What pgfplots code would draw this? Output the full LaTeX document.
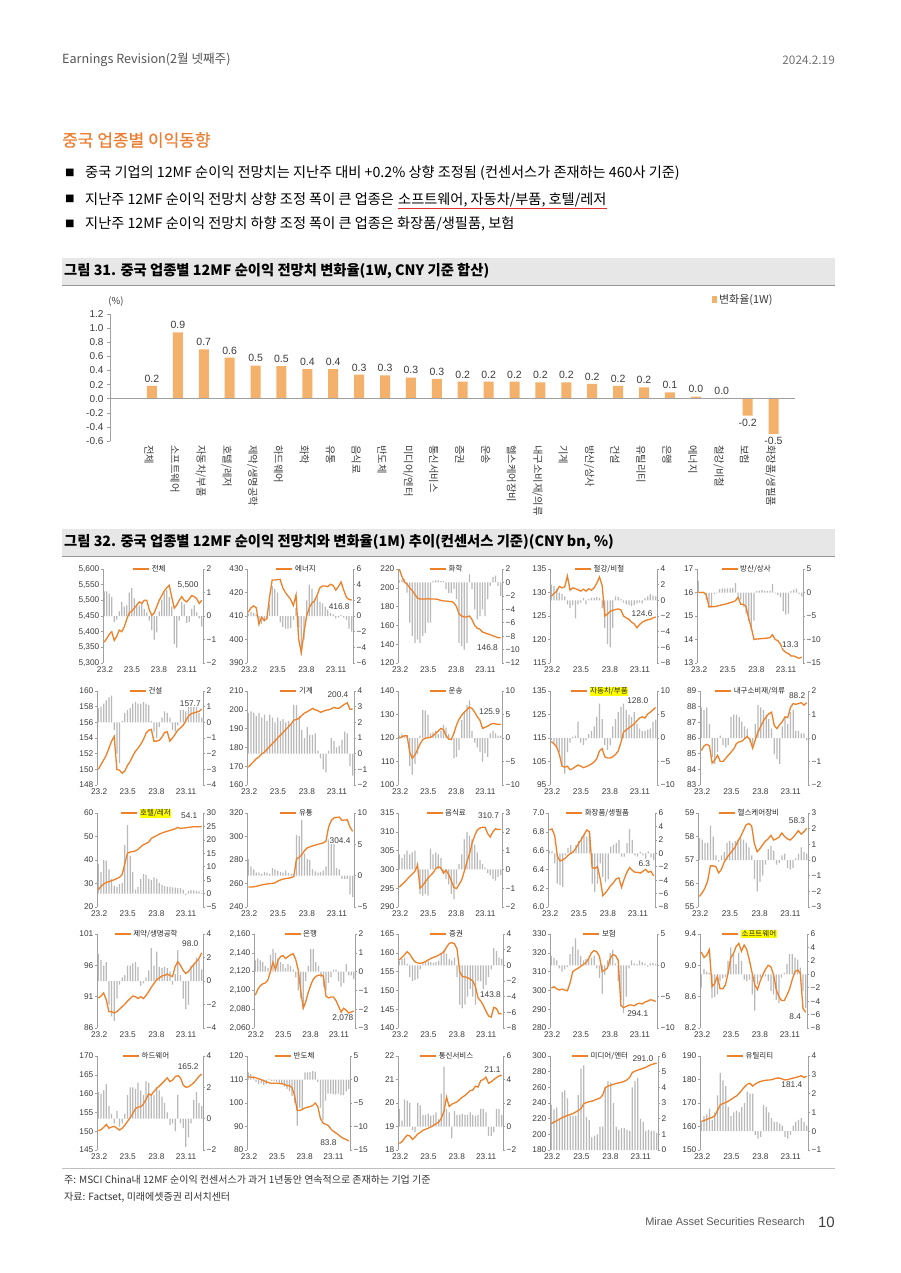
\documentclass[border=0pt]{standalone}
\usepackage{fontspec}
\setmainfont{Noto Sans CJK KR}
\newfontfamily\krmed[FakeBold=0.5]{Noto Sans CJK KR}
\newfontfamily\lib{Liberation Sans}
\usepackage{pgfplots}
\pgfplotsset{compat=1.18}
\usepackage{pgfplotstable}
\definecolor{lineorange}{RGB}{238,128,40}
\definecolor{titleorange}{RGB}{237,125,49}
\definecolor{barorange}{RGB}{244,177,108}
\definecolor{bargray}{RGB}{185,185,185}
\definecolor{axisgray}{RGB}{160,160,160}
\definecolor{tickgray}{RGB}{60,60,60}
\definecolor{bandgray}{RGB}{231,231,231}
\definecolor{bandline}{RGB}{150,150,150}
\definecolor{hdrgray}{RGB}{85,85,85}
\definecolor{hl}{RGB}{255,255,0}
\definecolor{ulred}{RGB}{222,50,50}
\setlength{\fboxsep}{0.6pt}

% ---------- data: L = 12MF earnings (left axis), B = 1M change % (right axis)
\pgfplotstableread[row sep=\\]{L B\\
5367 1.05\\ 5378 1.05\\ 5392 0.95\\ 5400 0.8\\ 5372 -0.25\\ 5385 -0.15\\ 5405 0.2\\ 5400 0.6\\
5415 0.4\\ 5440 0.45\\ 5460 1.0\\ 5465 1.2\\ 5475 0.75\\ 5485 0.5\\ 5495 0.45\\ 5490 0.55\\
5500 0.3\\ 5500 0.15\\ 5470 -0.2\\ 5452 -0.6\\ 5460 -1.0\\ 5480 -0.7\\ 5500 0.2\\ 5515 0.7\\
5530 1.0\\ 5540 1.1\\ 5548 0.8\\ 5510 0.4\\ 5475 -1.2\\ 5485 -1.35\\ 5500 -0.2\\ 5512 0.6\\
5500 0.5\\ 5495 -0.3\\ 5505 -0.25\\ 5515 0.3\\ 5512 0.45\\ 5505 0.15\\ 5490 -0.1\\ 5500 -0.45\\
}\Ta
\pgfplotstableread[row sep=\\]{L B\\
411.6 0.3\\ 413.5 0.5\\ 414.3 0.4\\ 413.5 0.2\\ 406.5 -0.6\\ 409.5 -1.0\\ 408.0 -0.5\\ 409.0 -0.3\\
418 1.5\\ 425.3 3.8\\ 425.3 3.5\\ 425.5 3.0\\ 425.6 -0.8\\ 422.0 -1.4\\ 420.0 -1.6\\ 418.5 -1.6\\
417.0 -1.5\\ 414.5 -0.5\\ 419.0 1.0\\ 400.0 -1.5\\ 394.5 -5.0\\ 403.0 -3.0\\ 410.0 2.0\\ 413.5 4.0\\
415.5 3.5\\ 416.5 2.2\\ 419.0 2.5\\ 422.0 1.8\\ 422.8 1.6\\ 422.8 1.2\\ 422.5 0.8\\ 423.5 0.4\\
423.0 0.2\\ 421.0 -0.3\\ 422.5 -0.2\\ 424.5 0.1\\ 421.0 -0.2\\ 418.0 -0.5\\ 417.0 -1.6\\ 416.8 -2.0\\
}\Tb
\pgfplotstableread[row sep=\\]{L B\\
220 0.3\\ 212 0.4\\ 206 0.5\\ 204 -1.5\\ 200 -6.0\\ 197 -8.0\\ 193 -9.0\\ 189 -8.5\\
188 -9.0\\ 188 -8.0\\ 188 -7.5\\ 188.5 -6.0\\ 188 -6.0\\ 188 0.2\\ 188 0.3\\ 187.5 0.3\\
186.5 0.2\\ 186 0.2\\ 186 -1.0\\ 185.5 -1.6\\ 185.5 -1.6\\ 184 -1.0\\ 180 -2.5\\ 172 -9.0\\
170 -9.5\\ 169 -10.0\\ 169 -9.0\\ 170 1.2\\ 166 -1.0\\ 160 -4.0\\ 157 -5.5\\ 156 -5.0\\
153 -4.0\\ 152 -5.0\\ 151 -2.5\\ 150 -0.5\\ 149 0.8\\ 148 1.0\\ 147 -0.5\\ 146.8 -2.0\\
}\Tc
\pgfplotstableread[row sep=\\]{L B\\
129.2 2.0\\ 129.8 1.8\\ 130.3 1.5\\ 131.3 1.0\\ 131.0 0.8\\ 131.2 0.5\\ 133.5 -0.5\\ 130.5 -1.0\\
131.0 -0.6\\ 130.8 -2.3\\ 130.6 -0.5\\ 130.3 -0.3\\ 130.7 0.3\\ 130.3 -0.5\\ 130.8 0.2\\ 130.5 0.3\\
131.0 0.3\\ 132.0 0.4\\ 133.3 0.3\\ 131.5 -1.0\\ 125.0 -3.5\\ 125.4 -5.6\\ 126.0 -6.0\\ 126.2 -3.5\\
126.4 0.5\\ 126.5 0.4\\ 126.3 0.2\\ 125.0 -0.3\\ 124.6 -0.5\\ 124.3 -0.6\\ 123.7 -0.7\\ 123.3 -0.6\\
122.5 -0.4\\ 123.2 -0.3\\ 123.7 -0.4\\ 124.0 0.3\\ 124.2 0.5\\ 124.3 0.8\\ 124.6 0.6\\ 124.8 0.5\\
}\Td
\pgfplotstableread[row sep=\\]{L B\\
16.0 2.5\\ 16.0 0.2\\ 16.0 0.2\\ 15.9 -1.5\\ 15.4 -3.3\\ 15.4 -3.2\\ 15.4 -0.3\\ 15.42 -0.2\\
15.45 0.7\\ 15.48 0.8\\ 15.5 0.8\\ 15.53 0.9\\ 15.57 0.9\\ 15.6 1.0\\ 15.65 2.0\\ 15.8 -0.8\\
15.5 -1.5\\ 15.5 -3.0\\ 15.4 -4.5\\ 14.9 -6.0\\ 14.5 -8.0\\ 14.0 -6.0\\ 14.02 0.3\\ 14.03 0.4\\
14.04 0.5\\ 14.05 0.4\\ 14.06 0.3\\ 14.08 0.4\\ 14.2 1.8\\ 14.0 -0.2\\ 13.95 -0.5\\ 13.8 -1.0\\
13.55 -4.0\\ 13.45 -4.7\\ 13.4 -4.5\\ 13.3 0.3\\ 13.3 0.6\\ 13.25 0.8\\ 13.2 -0.3\\ 13.25 -0.8\\
}\Te
\pgfplotstableread[row sep=\\]{L B\\
150.0 0.9\\ 150.6 1.0\\ 151.2 1.2\\ 151.8 1.4\\ 152.7 1.6\\ 153.6 1.7\\ 154.2 -0.5\\ 150.0 -2.0\\
149.9 -2.6\\ 149.5 0.1\\ 149.8 0.6\\ 150.5 0.8\\ 151.0 0.9\\ 151.7 1.2\\ 152.3 1.3\\ 152.7 1.2\\
153.2 1.2\\ 153.8 1.3\\ 154.6 1.2\\ 155.0 1.1\\ 155.1 0.1\\ 153.6 -0.6\\ 153.6 -1.0\\ 153.7 -0.3\\
154.1 0.3\\ 154.7 0.7\\ 154.8 0.6\\ 153.6 0.3\\ 154.0 -0.5\\ 154.5 -0.6\\ 155.0 -0.2\\ 155.3 0.8\\
155.6 0.8\\ 156.2 0.7\\ 156.8 1.0\\ 157.1 1.1\\ 157.2 1.2\\ 157.3 1.0\\ 157.4 0.6\\ 157.7 0.3\\
}\Tf
\pgfplotstableread[row sep=\\]{L B\\
169.5 2.6\\ 171 2.7\\ 172.5 2.6\\ 174.0 2.4\\ 175.0 2.6\\ 176.5 2.3\\ 177.5 2.5\\ 179.0 2.1\\
180.5 2.5\\ 182.0 2.3\\ 183.5 2.0\\ 185.0 2.3\\ 186.5 2.1\\ 188.0 2.2\\ 189.5 2.0\\ 191.0 2.1\\
192.5 1.9\\ 194.5 3.1\\ 194.8 3.1\\ 195.5 2.4\\ 197.0 1.5\\ 198.3 1.0\\ 199.0 1.7\\ 199.8 1.2\\
200.7 1.2\\ 200.0 1.3\\ 199.5 0.2\\ 198.7 -0.3\\ 199.2 -1.0\\ 199.8 -1.2\\ 200.0 0.2\\ 200.5 1.0\\
201.3 0.8\\ 200.8 0.4\\ 200.9 0.5\\ 202.0 0.9\\ 203.0 1.4\\ 203.7 1.3\\ 200.3 -0.8\\ 200.4 -1.4\\
}\Tg
\pgfplotstableread[row sep=\\]{L B\\
119.9 0.5\\ 120.5 0.8\\ 121.0 0.5\\ 121.0 0.4\\ 114.0 -6.0\\ 111.4 -7.8\\ 112.8 -5.5\\ 115.0 -3.5\\
117.5 0.5\\ 119.3 6.0\\ 119.9 5.8\\ 120.1 5.0\\ 120.3 1.0\\ 121.0 1.2\\ 122.0 1.5\\ 123.0 0.8\\
124.1 1.5\\ 123.5 2.8\\ 121.0 2.2\\ 119.5 0.8\\ 119.4 -0.5\\ 122.0 -4.3\\ 125.5 -4.0\\ 128.0 -2.5\\
129.7 3.8\\ 131.0 5.5\\ 132.0 7.0\\ 133.2 8.0\\ 132.5 1.5\\ 131.0 -1.0\\ 129.0 -2.0\\ 127.6 -3.0\\
124.1 -5.0\\ 124.6 -3.2\\ 125.0 -4.0\\ 125.8 1.0\\ 126.2 1.5\\ 126.0 1.0\\ 125.8 0.5\\ 125.9 0.5\\
}\Th
\pgfplotstableread[row sep=\\]{L B\\
113.5 -0.5\\ 112.5 -1.0\\ 111.2 -2.0\\ 108.0 -3.0\\ 103.0 -6.0\\ 102.6 -7.6\\ 103.0 -3.0\\ 101.5 -1.0\\
102.0 0.3\\ 102.8 0.5\\ 103.5 3.5\\ 103.0 -1.0\\ 102.4 -1.5\\ 102.8 -0.5\\ 103.3 0.8\\ 104.0 1.5\\
104.8 2.5\\ 106.2 4.5\\ 109.5 7.3\\ 110.5 4.0\\ 107.0 -1.5\\ 106.5 -2.5\\ 106.5 -1.5\\ 107.0 2.5\\
108.0 4.0\\ 109.5 5.5\\ 113.0 6.6\\ 117.5 7.3\\ 118.5 6.0\\ 119.3 5.0\\ 120.2 4.5\\ 121.0 5.5\\
122.3 3.0\\ 123.5 2.0\\ 124.0 1.5\\ 123.5 1.5\\ 125.2 1.8\\ 126.0 2.0\\ 127.0 3.5\\ 128.0 3.9\\
}\Ti
\pgfplotstableread[row sep=\\]{L B\\
85.2 1.3\\ 85.5 1.2\\ 85.6 1.3\\ 85.5 0.6\\ 84.4 -0.8\\ 84.6 -1.1\\ 84.9 -0.6\\ 84.5 0.1\\
84.5 -0.3\\ 84.7 -0.4\\ 84.9 -0.3\\ 85.1 0.9\\ 85.3 1.0\\ 85.65 1.0\\ 85.75 0.9\\ 85.8 0.7\\
85.95 0.5\\ 86.1 0.4\\ 85.9 -0.2\\ 85.35 -0.3\\ 85.9 0.6\\ 86.4 1.4\\ 86.75 1.3\\ 87.1 1.2\\
87.35 1.0\\ 87.55 0.8\\ 87.65 0.4\\ 86.8 -0.7\\ 86.6 -0.9\\ 86.85 -1.1\\ 87.05 0.5\\ 87.35 0.9\\
87.3 0.6\\ 87.95 1.1\\ 88.2 1.2\\ 88.15 0.3\\ 88.2 0.3\\ 88.25 0.2\\ 88.1 0.2\\ 88.25 -0.1\\
}\Tj
\pgfplotstableread[row sep=\\]{L B\\
27.3 11.0\\ 28.8 8.0\\ 29.8 12.5\\ 30.5 12.3\\ 30.8 9.0\\ 31.2 5.5\\ 31.6 3.0\\ 32.1 2.5\\
32.7 3.5\\ 33.8 4.0\\ 38.5 18.0\\ 42.9 25.5\\ 43.4 14.0\\ 43.6 8.0\\ 43.9 1.5\\ 44.5 2.5\\
45.6 5.5\\ 46.5 7.2\\ 47.0 7.0\\ 47.6 5.5\\ 49.2 5.0\\ 49.8 6.0\\ 50.4 5.5\\ 51.0 4.0\\
51.5 3.2\\ 51.9 2.8\\ 52.2 2.6\\ 52.6 2.5\\ 52.9 2.3\\ 53.3 2.2\\ 53.9 2.0\\ 53.4 2.0\\
53.6 1.5\\ 53.7 -0.5\\ 53.9 1.0\\ 54.0 1.3\\ 54.2 1.2\\ 54.1 1.0\\ 54.2 0.8\\ 54.2 0.3\\
}\Tk
\pgfplotstableread[row sep=\\]{L B\\
257.1 2.7\\ 257.0 1.5\\ 257.2 1.0\\ 257.6 0.5\\ 258.2 0.5\\ 258.8 0.3\\ 259.3 0.6\\ 259.6 0.5\\
260.0 0.3\\ 260.1 1.2\\ 260.6 1.0\\ 262.0 0.8\\ 263.0 0.6\\ 263.8 0.5\\ 264.2 0.8\\ 264.6 0.4\\
265.0 0.3\\ 266.0 0.2\\ 281.0 6.5\\ 282.3 6.3\\ 284.5 8.9\\ 288.0 3.5\\ 290.3 2.7\\ 291.2 2.5\\
292.0 1.0\\ 292.7 0.7\\ 293.3 0.5\\ 294.0 0.6\\ 294.6 0.8\\ 295.9 1.5\\ 308.0 5.8\\ 313.5 6.0\\
315.8 5.5\\ 316.3 1.2\\ 316.5 1.0\\ 313.8 -0.5\\ 314.0 -0.5\\ 314.2 -0.5\\ 308.0 -3.0\\ 304.4 -3.4\\
}\Tl
\pgfplotstableread[row sep=\\]{L B\\
295.3 0.8\\ 296.0 0.6\\ 296.6 0.8\\ 297.4 1.0\\ 298.1 0.8\\ 298.8 0.9\\ 299.5 1.0\\ 301.1 0.4\\
295.0 -1.3\\ 295.7 -1.4\\ 296.7 -1.3\\ 297.6 -1.4\\ 298.4 1.1\\ 299.1 0.8\\ 300.2 0.9\\ 300.7 0.8\\
300.4 0.6\\ 299.0 -0.2\\ 299.8 -0.5\\ 298.6 -0.8\\ 297.0 -1.3\\ 295.2 -1.6\\ 294.9 -0.8\\ 296.0 0.3\\
297.2 0.8\\ 299.5 1.6\\ 302.0 2.0\\ 304.1 1.8\\ 307.0 1.6\\ 309.0 1.3\\ 310.5 0.9\\ 311.0 0.5\\
311.2 0.3\\ 311.2 0.1\\ 309.5 -0.2\\ 308.6 -0.3\\ 310.0 -0.5\\ 310.8 -0.6\\ 310.6 -0.4\\ 310.7 -0.3\\
}\Tm
\pgfplotstableread[row sep=\\]{L B\\
6.82 0.4\\ 6.83 0.3\\ 6.76 -1.5\\ 6.54 -4.5\\ 6.49 -4.7\\ 6.50 -5.0\\ 6.52 -0.3\\ 6.55 0.8\\
6.57 1.2\\ 6.59 0.2\\ 6.63 1.2\\ 6.68 1.8\\ 6.72 2.5\\ 6.77 2.8\\ 6.82 2.5\\ 6.80 3.2\\
6.42 -4.5\\ 6.41 -5.8\\ 6.43 -4.5\\ 6.30 -1.5\\ 6.12 -3.5\\ 6.15 -4.3\\ 6.19 -3.9\\ 6.23 1.0\\
6.26 1.3\\ 6.30 1.5\\ 6.31 2.0\\ 6.21 -0.5\\ 6.30 -0.5\\ 6.37 1.5\\ 6.42 3.6\\ 6.39 2.0\\
6.37 -0.3\\ 6.37 -0.5\\ 6.36 0.2\\ 6.38 -0.3\\ 6.40 -0.8\\ 6.37 0.3\\ 6.38 -0.6\\ 6.33 -1.0\\
}\Tn
\pgfplotstableread[row sep=\\]{L B\\
55.45 1.4\\ 55.6 1.3\\ 55.8 1.1\\ 56.1 1.1\\ 56.75 2.2\\ 56.75 1.5\\ 56.72 0.3\\ 56.45 -0.1\\
56.6 0.3\\ 56.9 0.5\\ 57.1 1.1\\ 57.25 1.2\\ 57.4 1.1\\ 57.55 1.2\\ 57.8 1.3\\ 58.0 1.4\\
58.25 1.3\\ 58.5 1.1\\ 58.55 0.8\\ 58.45 0.3\\ 57.7 -1.2\\ 57.35 -2.0\\ 57.48 -1.4\\ 57.65 -1.0\\
57.8 -0.3\\ 57.9 0.7\\ 58.05 0.9\\ 57.85 0.6\\ 57.9 -0.3\\ 57.98 -0.2\\ 58.15 0.3\\ 58.0 0.4\\
57.9 -0.5\\ 57.85 -0.6\\ 57.95 -0.5\\ 58.1 0.1\\ 58.25 0.4\\ 58.1 0.8\\ 58.2 0.5\\ 58.35 0.4\\
}\To
\pgfplotstableread[row sep=\\]{L B\\
90.8 2.3\\ 91.1 1.8\\ 91.6 1.3\\ 90.5 1.6\\ 88.6 -2.0\\ 88.6 -3.0\\ 88.4 -3.4\\ 88.6 -1.5\\
89.0 -0.3\\ 89.4 0.3\\ 89.8 0.5\\ 90.3 1.3\\ 90.7 1.3\\ 91.1 1.5\\ 91.0 1.6\\ 90.7 1.2\\
91.0 -0.4\\ 90.7 -0.2\\ 91.2 0.3\\ 91.8 0.9\\ 92.5 2.8\\ 93.1 1.3\\ 93.7 2.5\\ 94.0 1.2\\
94.3 1.1\\ 94.4 1.2\\ 94.6 1.1\\ 94.4 0.8\\ 94.2 -0.3\\ 95.8 0.6\\ 96.6 2.6\\ 96.0 0.5\\
95.2 -1.5\\ 94.7 -2.4\\ 95.0 -2.0\\ 95.6 1.3\\ 96.1 1.5\\ 96.6 2.0\\ 97.1 1.8\\ 98.0 1.0\\
}\Tp
\pgfplotstableread[row sep=\\]{L B\\
2095 0.6\\ 2101 0.7\\ 2105 0.6\\ 2107 0.5\\ 2108 0.3\\ 2111 0.2\\ 2120 0.9\\ 2130 1.2\\
2122 1.0\\ 2132 0.7\\ 2136 0.5\\ 2137 0.4\\ 2134 0.2\\ 2136 0.4\\ 2138 0.3\\ 2139 0.1\\
2133 -0.3\\ 2122 -1.0\\ 2100 -1.4\\ 2081 -2.0\\ 2088 -0.5\\ 2098 0.3\\ 2106 1.2\\ 2112 1.2\\
2115 0.5\\ 2116 0.3\\ 2116.5 -0.3\\ 2115 -0.8\\ 2094 -1.0\\ 2092 -0.6\\ 2093 -0.3\\ 2093 0.1\\
2089 0.1\\ 2083 -0.5\\ 2077 -0.8\\ 2081 -0.6\\ 2079 0.4\\ 2076 -0.2\\ 2077 -0.2\\ 2078 -0.4\\
}\Tq
\pgfplotstableread[row sep=\\]{L B\\
158.1 0.6\\ 158.8 0.8\\ 159.5 1.0\\ 160.3 0.2\\ 159.6 -1.5\\ 158.5 -2.0\\ 157.6 -1.9\\ 157.3 -1.7\\
157.2 -0.5\\ 157.4 0.3\\ 157.7 0.4\\ 158.1 0.5\\ 158.5 0.4\\ 158.8 0.3\\ 159.0 0.4\\ 159.4 0.6\\
159.8 1.5\\ 160.3 2.0\\ 161.5 1.5\\ 162.5 0.8\\ 162.7 0.6\\ 162.4 1.0\\ 161.0 -1.5\\ 155.0 -5.0\\
153.7 -5.5\\ 153.6 -5.0\\ 153.4 -4.0\\ 153.0 -3.0\\ 152.5 -4.0\\ 151.0 -5.0\\ 148.0 -2.0\\ 147.2 -2.0\\
146.0 -3.0\\ 144.5 -2.5\\ 143.2 -1.5\\ 142.9 -0.5\\ 145.5 2.2\\ 145.2 1.8\\ 143.8 1.0\\ 143.8 0.8\\
}\Tr
\pgfplotstableread[row sep=\\]{L B\\
301.2 1.5\\ 302.0 1.2\\ 300.8 0.8\\ 300.2 -0.5\\ 300.7 -1.0\\ 300.2 -0.6\\ 299.8 -0.3\\ 304.0 1.8\\
310.0 3.0\\ 311.0 4.3\\ 311.8 2.5\\ 312.8 1.5\\ 313.8 0.8\\ 314.8 1.0\\ 317.1 1.0\\ 320.0 1.2\\
321.2 1.5\\ 320.5 -0.5\\ 318.0 -2.0\\ 310.0 -4.5\\ 310.8 -1.5\\ 312.0 0.8\\ 317.1 2.0\\ 319.0 2.5\\
318.5 0.3\\ 316.0 -2.5\\ 292.0 -5.5\\ 290.8 -7.6\\ 291.5 -5.0\\ 292.2 -0.5\\ 292.2 0.8\\ 291.8 0.3\\
292.8 0.2\\ 293.2 0.8\\ 292.8 0.5\\ 293.8 0.3\\ 294.3 -0.2\\ 295.0 0.3\\ 294.8 0.4\\ 294.1 0.2\\
}\Ts
\pgfplotstableread[row sep=\\]{L B\\
9.17 -2.0\\ 9.10 0.8\\ 9.13 0.4\\ 9.20 0.2\\ 8.73 -3.5\\ 8.77 -3.4\\ 8.86 -3.0\\ 8.70 -1.0\\
8.70 -0.6\\ 8.75 -0.4\\ 8.90 2.0\\ 9.10 4.0\\ 9.15 3.0\\ 9.24 1.5\\ 9.28 3.2\\ 9.18 2.0\\
9.26 -0.8\\ 9.20 -1.0\\ 9.06 -0.8\\ 8.90 -3.0\\ 8.75 -5.4\\ 8.69 -1.5\\ 8.80 -0.5\\ 8.88 -0.3\\
8.95 -0.3\\ 9.00 -1.0\\ 8.98 -2.5\\ 8.88 -3.0\\ 8.69 -3.8\\ 8.60 -4.3\\ 8.55 -0.5\\ 8.55 0.2\\
8.62 1.5\\ 8.70 3.0\\ 8.82 3.0\\ 8.92 2.5\\ 8.94 2.2\\ 8.90 1.0\\ 8.45 -2.5\\ 8.40 -5.0\\
}\Tt
\pgfplotstableread[row sep=\\]{L B\\
150.1 1.7\\ 150.4 1.6\\ 151.0 1.8\\ 151.8 2.2\\ 150.8 0.8\\ 151.1 0.3\\ 151.3 -0.3\\ 150.8 0.5\\
150.3 -0.5\\ 150.8 -0.3\\ 151.6 0.3\\ 152.6 1.5\\ 153.6 2.0\\ 154.7 2.0\\ 156.0 1.9\\ 156.4 2.3\\
156.5 1.8\\ 157.2 1.5\\ 158.5 2.4\\ 159.9 2.3\\ 159.6 1.6\\ 160.6 1.5\\ 161.4 2.0\\ 162.0 1.8\\
162.7 1.4\\ 163.4 1.0\\ 164.2 0.4\\ 163.2 -0.4\\ 163.6 -0.3\\ 164.5 -0.8\\ 164.8 1.5\\ 164.2 -0.3\\
162.3 -0.6\\ 161.7 -1.8\\ 161.8 -1.2\\ 162.3 -0.3\\ 162.9 1.2\\ 163.7 1.7\\ 164.6 1.0\\ 165.2 0.8\\
}\Tu
\pgfplotstableread[row sep=\\]{L B\\
111.2 1.5\\ 111.0 1.2\\ 111.0 0.8\\ 110.7 -0.5\\ 110.3 -1.0\\ 110.0 -0.8\\ 109.5 -1.2\\ 109.0 -1.0\\
108.6 0.2\\ 108.4 -0.3\\ 108.4 -0.3\\ 108.4 -0.5\\ 108.3 -0.8\\ 108.2 -1.0\\ 108.0 -1.5\\ 107.4 -2.0\\
107.4 -2.5\\ 106.5 -3.5\\ 103.0 -5.0\\ 96.8 -9.8\\ 96.8 -6.0\\ 97.3 -6.5\\ 97.9 1.5\\ 98.2 1.5\\
98.5 1.6\\ 98.9 1.8\\ 100.0 1.7\\ 98.5 -0.5\\ 93.5 -6.0\\ 91.5 -8.7\\ 91.0 -4.5\\ 90.5 -3.0\\
89.1 -3.0\\ 88.0 -3.1\\ 87.3 -3.2\\ 86.5 -3.0\\ 85.6 -3.3\\ 84.9 -3.3\\ 84.5 -2.5\\ 83.8 -2.0\\
}\Tv
\pgfplotstableread[row sep=\\]{L B\\
18.28 1.5\\ 18.35 0.5\\ 18.5 2.3\\ 18.63 2.2\\ 18.6 2.0\\ 18.45 -0.3\\ 18.55 -0.5\\ 18.68 2.0\\
18.75 1.8\\ 18.84 1.0\\ 18.88 1.0\\ 18.93 1.1\\ 18.98 0.9\\ 19.05 1.0\\ 19.12 1.2\\ 19.19 0.6\\
19.35 2.8\\ 19.65 5.1\\ 20.25 1.5\\ 19.85 1.2\\ 19.95 -1.0\\ 20.0 1.3\\ 20.05 1.0\\ 20.15 1.0\\
20.25 1.1\\ 20.32 1.0\\ 20.42 1.0\\ 20.53 1.2\\ 20.55 1.0\\ 20.72 0.9\\ 20.68 1.0\\ 20.95 1.5\\
21.0 1.5\\ 21.1 1.2\\ 20.84 -0.8\\ 20.9 -0.8\\ 21.0 -0.5\\ 21.08 1.5\\ 21.15 1.5\\ 21.19 1.0\\
}\Tw
\pgfplotstableread[row sep=\\]{L B\\
213.7 2.9\\ 215.5 2.6\\ 217.5 2.7\\ 219.3 2.0\\ 221.3 3.7\\ 222.8 3.8\\ 224.2 3.3\\ 225.3 2.2\\
226.6 2.2\\ 228.5 2.2\\ 230.5 3.5\\ 233.0 5.2\\ 238.9 5.4\\ 240.7 2.1\\ 241.6 1.9\\ 242.3 0.8\\
243.7 0.9\\ 245.0 1.0\\ 246.3 1.5\\ 250.0 1.5\\ 259.8 4.0\\ 261.5 4.4\\ 262.8 4.3\\ 263.8 3.0\\
265.0 1.5\\ 265.7 1.3\\ 266.5 1.4\\ 267.7 1.4\\ 269.5 1.3\\ 272.7 1.2\\ 278.9 4.0\\ 280.7 4.4\\
282.0 4.6\\ 283.2 2.0\\ 284.3 1.8\\ 285.7 1.2\\ 287.5 1.3\\ 289.0 1.2\\ 290.0 1.2\\ 291.0 1.1\\
}\Tx
\pgfplotstableread[row sep=\\]{L B\\
162.2 0.5\\ 162.5 0.8\\ 163.0 0.9\\ 163.5 1.2\\ 163.9 0.6\\ 164.6 1.0\\ 166.8 1.9\\ 169.2 3.1\\
169.8 2.7\\ 170.2 2.4\\ 170.8 1.3\\ 171.5 0.8\\ 172.3 1.0\\ 173.0 1.1\\ 174.1 1.0\\ 175.5 1.3\\
176.9 1.5\\ 178.0 2.1\\ 178.4 2.0\\ 177.2 2.0\\ 178.1 -0.2\\ 178.8 -0.4\\ 179.2 -0.3\\ 179.5 1.4\\
179.7 1.3\\ 179.8 1.0\\ 179.9 0.7\\ 180.3 0.5\\ 180.6 0.5\\ 180.6 0.4\\ 180.2 0.3\\ 179.8 -0.3\\
180.0 -0.4\\ 180.3 -0.2\\ 180.6 0.3\\ 180.9 0.5\\ 181.2 0.6\\ 181.6 0.7\\ 180.9 0.5\\ 181.4 0.3\\
}\Ty

\pgfplotsset{
  pcommon/.style={scale only axis, height=94pt, anchor=south west,
    xmin=-0.5, xmax=39.5, scaled y ticks=false,
    /pgf/number format/assume math mode=true,
    tick align=outside, major tick length=2pt,
    tick style={axisgray, line width=0.5pt},
    axis line style={axisgray, line width=0.6pt},
    tick label style={font=\lib\fontsize{8.3}{9}\selectfont, text=tickgray},
    yticklabel style={inner sep=1.5pt},
    clip mode=individual},
  pbar/.style={pcommon, axis x line=none, axis y line*=right},
  pline/.style={pcommon, axis y line*=left, axis x line*=bottom,
    x axis line style={draw=none},
    xtick={0.3,11.1,21.9,33.1}, xticklabels={23.2,23.5,23.8,23.11},
    xtick style={draw=none}, xticklabel style={inner sep=1.5pt},
    legend style={at={(0.47,1)}, anchor=center, draw=none, fill=none,
      inner sep=0pt, font=\fontsize{7.5}{8}\selectfont, text=black!85},
    legend image code/.code={\draw[##1, line width=1.3pt] (0pt,0pt) -- (16pt,0pt);}},
  pbarplot/.style={ybar, bar width=1.25pt, fill=bargray, draw=none, bar shift=0pt},
  plineplot/.style={color=lineorange, line width=1.3pt, mark=none},
}
\tikzset{vlab/.style={font=\lib\fontsize{8.3}{9}\selectfont, text=tickgray, fill=white, inner sep=0.5pt}}

\newcommand\Panel[9]{%
  \begin{axis}[pbar, at={(#2pt,-#3pt)}, width=#4pt, #6]
    \addplot[pbarplot] table[x expr=\coordindex, y=B] {#1};
  \end{axis}
  \begin{axis}[pline, at={(#2pt,-#3pt)}, width=#4pt, #5]
    \addplot[plineplot] table[x expr=\coordindex, y=L] {#1};
    \addlegendentry{#7}
    \node[vlab] at (rel axis cs:#8) {#9};
  \end{axis}}

\begin{document}
\begin{tikzpicture}
\fill[white] (0pt,0pt) rectangle (900pt,-1273pt);

% header
\node[anchor=west, inner sep=0, font=\fontsize{12.6}{13}\selectfont, text=hdrgray] at (62pt,-60pt) {Earnings Revision(2월 넷째주)};
\node[anchor=east, inner sep=0, font=\fontsize{11.8}{12}\selectfont, text=black!55] at (835pt,-60pt) {2024.2.19};
\node[anchor=west, inner sep=0, font=\krmed\fontsize{17}{17}\selectfont, text=titleorange] at (62pt,-140pt) {중국 업종별 이익동향};

% bullets
\foreach \yy in {173,199,224} {\node[anchor=west, inner sep=0, font=\fontsize{9.5}{10}\selectfont] at (65pt,-\yy pt) {■};}
\node[anchor=west, inner sep=0, font=\fontsize{14.2}{15}\selectfont] at (85pt,-173pt) {중국 기업의 12MF 순이익 전망치는 지난주 대비 +0.2\% 상향 조정됨 (컨센서스가 존재하는 460사 기준)};
\node[anchor=west, inner sep=0, font=\fontsize{14.2}{15}\selectfont] (b2) at (85pt,-199pt) {지난주 12MF 순이익 전망치 상향 조정 폭이 큰 업종은};
\node[anchor=base west, inner sep=0, font=\fontsize{14.2}{15}\selectfont] (b2u) at ([xshift=3.8pt]b2.base east) {소프트웨어, 자동차/부품, 호텔/레저};
\draw[ulred, line width=1.2pt] ([yshift=-4.5pt]b2u.base west) -- ([yshift=-4.5pt]b2u.base east);
\node[anchor=west, inner sep=0, font=\fontsize{14.2}{15}\selectfont] at (85pt,-224pt) {지난주 12MF 순이익 전망치 하향 조정 폭이 큰 업종은 화장품/생필품, 보험};

% figure 31 band
\fill[bandgray] (62pt,-258pt) rectangle (835pt,-285pt);
\draw[bandline, line width=0.8pt] (62pt,-285pt) -- (835pt,-285pt);
\node[anchor=west, inner sep=0, font=\bfseries\fontsize{14.3}{15}\selectfont] at (64pt,-271.5pt) {그림 31. 중국 업종별 12MF 순이익 전망치 변화율(1W, CNY 기준 합산)};

\node[anchor=center, inner sep=0, font=\fontsize{9.5}{10}\selectfont, text=tickgray] at (116pt,-302pt) {(\%)};
\node[anchor=west, inner sep=0, font=\fontsize{11}{11}\selectfont, text=tickgray] at (712pt,-300pt) {{\color{barorange}\rule[0pt]{5pt}{7pt}}\,변화율(1W)};

\begin{axis}[at={(110pt,-441pt)}, anchor=south west, scale only axis, width=685pt, height=127pt,
  xmin=-1.62, xmax=24.83, ymin=-0.6, ymax=1.2,
  axis y line*=left, axis x line*=bottom, x axis line style={draw=none},
  ytick={-0.6,-0.4,-0.2,0,0.2,0.4,0.6,0.8,1.0,1.2},
  yticklabels={-0.6,-0.4,-0.2,0.0,0.2,0.4,0.6,0.8,1.0,1.2},
  tick align=outside, major tick length=3pt,
  ytick style={axisgray, line width=0.5pt},
  axis line style={axisgray, line width=0.6pt},
  yticklabel style={font=\lib\fontsize{10}{11}\selectfont, text=tickgray},
  xtick=data, xtick style={draw=none},
  xticklabels={전체,소프트웨어,자동차/부품,호텔/레저,제약/생명공학,하드웨어,화학,유통,음식료,반도체,미디어/엔터,통신서비스,증권,운송,헬스케어장비,내구소비재/의류,기계,방산/상사,건설,유틸리티,은행,에너지,철강/비철,보험,화장품/생필품},
  xticklabel style={rotate=-90, anchor=west, font=\fontsize{10.3}{11}\selectfont, text=tickgray, inner sep=1pt, xshift=0pt, yshift=-3pt},
  clip=false,
  nodes near coords={\pgfmathprintnumber[fixed,fixed zerofill,precision=1,assume math mode=true]{\pgfplotspointmeta}},
  nodes near coords style={font=\lib\fontsize{10.5}{11}\selectfont, text=tickgray},
]
\addplot[ybar, bar width=10pt, fill=barorange, draw=none, point meta=y] coordinates {
(0,0.18) (1,0.94) (2,0.70) (3,0.58) (4,0.47) (5,0.46) (6,0.42) (7,0.42) (8,0.34) (9,0.33)
(10,0.30) (11,0.28) (12,0.24) (13,0.24) (14,0.24) (15,0.23) (16,0.23) (17,0.21) (18,0.18) (19,0.16)
(20,0.09) (21,0.03) (22,0.01) (23,-0.24) (24,-0.50)};
\draw[axisgray, line width=0.6pt] (axis cs:-1.62,0) -- (axis cs:24.83,0);
\end{axis}

% figure 32 band
\fill[bandgray] (62pt,-529pt) rectangle (835pt,-556pt);
\draw[bandline, line width=0.8pt] (62pt,-556pt) -- (835pt,-556pt);
\node[anchor=west, inner sep=0, font=\bfseries\fontsize{14.3}{15}\selectfont] at (64pt,-542.5pt) {그림 32. 중국 업종별 12MF 순이익 전망치와 변화율(1M) 추이(컨센서스 기준)(CNY bn, \%)};

% row 1
\Panel{\Ta}{103}{663}{100}
 {ymin=5300,ymax=5600,ytick={5300,5350,5400,5450,5500,5550,5600},yticklabels={{5,300},{5,350},{5,400},{5,450},{5,500},{5,550},{5,600}}}
 {ymin=-2,ymax=2,ytick={-2,-1,0,1,2},yticklabels={−2,−1,0,1,2}}
 {전체}{0.85,0.83}{5,500}
\Panel{\Tb}{247}{663}{106}
 {ymin=390,ymax=430,ytick={390,400,410,420,430}}
 {ymin=-6,ymax=6,ytick={-6,-4,-2,0,2,4,6},yticklabels={−6,−4,−2,0,2,4,6}}
 {에너지}{0.87,0.6}{416.8}
\Panel{\Tc}{398}{663}{104}
 {ymin=120,ymax=220,ytick={120,140,160,180,200,220}}
 {ymin=-12,ymax=2,ytick={-12,-10,-8,-6,-4,-2,0,2},yticklabels={−12,−10,−8,−6,−4,−2,0,2}}
 {화학}{0.86,0.16}{146.8}
\Panel{\Td}{550}{663}{107}
 {ymin=115,ymax=135,ytick={115,120,125,130,135}}
 {ymin=-8,ymax=4,ytick={-8,-6,-4,-2,0,2,4},yticklabels={−8,−6,−4,−2,0,2,4}}
 {철강/비철}{0.86,0.53}{124.6}
\Panel{\Te}{697}{663}{106}
 {ymin=13,ymax=17,ytick={13,14,15,16,17}}
 {ymin=-15,ymax=5,ytick={-15,-10,-5,0,5},yticklabels={−15,−10,−5,0,5}}
 {방산/상사}{0.88,0.2}{13.3}

% row 2
\Panel{\Tf}{97}{785}{106}
 {ymin=148,ymax=160,ytick={148,150,152,154,156,158,160}}
 {ymin=-4,ymax=2,ytick={-4,-3,-2,-1,0,1,2},yticklabels={−4,−3,−2,−1,0,1,2}}
 {건설}{0.88,0.87}{157.7}
\Panel{\Tg}{247}{785}{107}
 {ymin=160,ymax=210,ytick={160,170,180,190,200,210}}
 {ymin=-2,ymax=4,ytick={-2,-1,0,1,2,3,4},yticklabels={−2,−1,0,1,2,3,4}}
 {기계}{0.85,0.96}{200.4}
\Panel{\Th}{398}{785}{104}
 {ymin=100,ymax=140,ytick={100,110,120,130,140}}
 {ymin=-10,ymax=10,ytick={-10,-5,0,5,10},yticklabels={−10,−5,0,5,10}}
 {운송}{0.88,0.78}{125.9}
\Panel{\Ti}{550}{785}{107}
 {ymin=95,ymax=135,ytick={95,105,115,125,135}}
 {ymin=-10,ymax=10,ytick={-10,-5,0,5,10},yticklabels={−10,−5,0,5,10}}
 {\colorbox{hl}{자동차/부품}}{0.82,0.9}{128.0}
\Panel{\Tj}{700}{785}{108}
 {ymin=83,ymax=89,ytick={83,84,85,86,87,88,89}}
 {ymin=-2,ymax=2,ytick={-2,-1,0,1,2},yticklabels={−2,−1,0,1,2}}
 {내구소비재/의류}{0.9,0.95}{88.2}

% row 3
\Panel{\Tk}{97}{907}{106}
 {ymin=20,ymax=60,ytick={20,30,40,50,60}}
 {ymin=-5,ymax=30,ytick={-5,0,5,10,15,20,25,30},yticklabels={−5,0,5,10,15,20,25,30}}
 {\colorbox{hl}{호텔/레저}}{0.87,0.97}{54.1}
\Panel{\Tl}{247}{907}{107}
 {ymin=240,ymax=320,ytick={240,260,280,300,320}}
 {ymin=-5,ymax=10,ytick={-5,0,5,10},yticklabels={−5,0,5,10}}
 {유통}{0.87,0.71}{304.4}
\Panel{\Tm}{398}{907}{104}
 {ymin=290,ymax=315,ytick={290,295,300,305,310,315}}
 {ymin=-2,ymax=3,ytick={-2,-1,0,1,2,3},yticklabels={−2,−1,0,1,2,3}}
 {음식료}{0.87,0.97}{310.7}
\Panel{\Tn}{548}{907}{107}
 {ymin=6,ymax=7,ytick={6,6.2,6.4,6.6,6.8,7},yticklabels={6.0,6.2,6.4,6.6,6.8,7.0}}
 {ymin=-8,ymax=6,ytick={-8,-6,-4,-2,0,2,4,6},yticklabels={−8,−6,−4,−2,0,2,4,6}}
 {화장품/생필품}{0.9,0.46}{6.3}
\Panel{\To}{698}{907}{110}
 {ymin=55,ymax=59,ytick={55,56,57,58,59}}
 {ymin=-3,ymax=3,ytick={-3,-2,-1,0,1,2,3},yticklabels={−3,−2,−1,0,1,2,3}}
 {헬스케어장비}{0.9,0.92}{58.3}

% row 4
\Panel{\Tp}{97}{1028}{106}
 {ymin=86,ymax=101,ytick={86,91,96,101}}
 {ymin=-4,ymax=4,ytick={-4,-2,0,2,4},yticklabels={−4,−2,0,2,4}}
 {제약/생명공학}{0.88,0.9}{98.0}
\Panel{\Tq}{254}{1028}{101}
 {ymin=2060,ymax=2160,ytick={2060,2080,2100,2120,2140,2160},yticklabels={{2,060},{2,080},{2,100},{2,120},{2,140},{2,160}}}
 {ymin=-3,ymax=2,ytick={-3,-2,-1,0,1,2},yticklabels={−3,−2,−1,0,1,2}}
 {은행}{0.88,0.1}{2,078}
\Panel{\Tr}{398}{1028}{105}
 {ymin=140,ymax=165,ytick={140,145,150,155,160,165}}
 {ymin=-8,ymax=4,ytick={-8,-6,-4,-2,0,2,4},yticklabels={−8,−6,−4,−2,0,2,4}}
 {증권}{0.88,0.35}{143.8}
\Panel{\Ts}{550}{1028}{107}
 {ymin=280,ymax=330,ytick={280,290,300,310,320,330}}
 {ymin=-10,ymax=5,ytick={-10,-5,0,5},yticklabels={−10,−5,0,5}}
 {보험}{0.82,0.15}{294.1}
\Panel{\Tt}{700}{1028}{107}
 {ymin=8.2,ymax=9.4,ytick={8.2,8.6,9,9.4},yticklabels={8.2,8.6,9.0,9.4}}
 {ymin=-8,ymax=6,ytick={-8,-6,-4,-2,0,2,4,6},yticklabels={−8,−6,−4,−2,0,2,4,6}}
 {\colorbox{hl}{소프트웨어}}{0.89,0.12}{8.4}

% row 5
\Panel{\Tu}{97}{1150}{106}
 {ymin=145,ymax=170,ytick={145,150,155,160,165,170}}
 {ymin=-2,ymax=4,ytick={-2,0,2,4},yticklabels={−2,0,2,4}}
 {하드웨어}{0.86,0.89}{165.2}
\Panel{\Tv}{247}{1150}{103}
 {ymin=80,ymax=120,ytick={80,90,100,110,120}}
 {ymin=-15,ymax=5,ytick={-15,-10,-5,0,5},yticklabels={−15,−10,−5,0,5}}
 {반도체}{0.79,0.08}{83.8}
\Panel{\Tw}{398}{1150}{105}
 {ymin=18,ymax=22,ytick={18,19,20,21,22}}
 {ymin=-2,ymax=6,ytick={-2,0,2,4,6},yticklabels={−2,0,2,4,6}}
 {통신서비스}{0.9,0.86}{21.1}
\Panel{\Tx}{550}{1150}{108}
 {ymin=180,ymax=300,ytick={180,200,220,240,260,280,300}}
 {ymin=0,ymax=6,ytick={0,1,2,3,4,5,6}}
 {미디어/엔터}{0.86,0.97}{291.0}
\Panel{\Ty}{700}{1150}{108}
 {ymin=150,ymax=190,ytick={150,160,170,180,190}}
 {ymin=-1,ymax=4,ytick={-1,0,1,2,3,4},yticklabels={−1,0,1,2,3,4}}
 {유틸리티}{0.85,0.7}{181.4}

% footer
\draw[black!25, line width=0.6pt] (62pt,-1168pt) -- (835pt,-1168pt);
\node[anchor=west, inner sep=0, font=\fontsize{10}{10}\selectfont, text=black!80] at (64pt,-1180pt) {주: MSCI China내 12MF 순이익 컨센서스가 과거 1년동안 연속적으로 존재하는 기업 기준};
\node[anchor=west, inner sep=0, font=\fontsize{10}{10}\selectfont, text=black!80] at (64pt,-1197pt) {자료: Factset, 미래에셋증권 리서치센터};
\node[anchor=east, inner sep=0, font=\lib\fontsize{11}{12}\selectfont, text=black!65] at (805pt,-1222pt) {Mirae Asset Securities Research};
\node[anchor=east, inner sep=0, font=\lib\fontsize{15}{16}\selectfont, text=black!75] at (835pt,-1222pt) {10};
\end{tikzpicture}
\end{document}
